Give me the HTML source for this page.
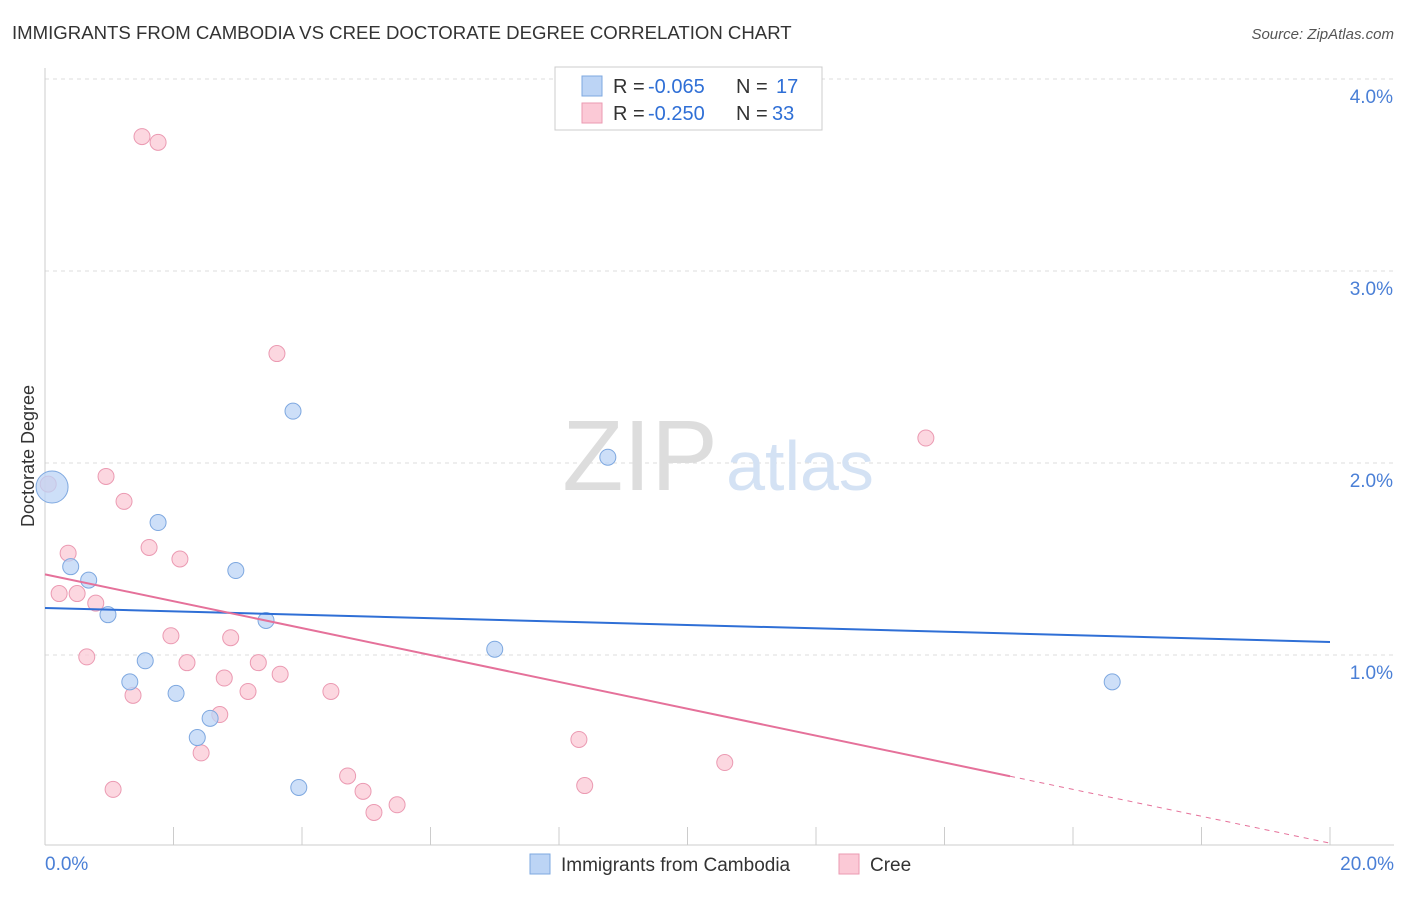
<!DOCTYPE html>
<html><head><meta charset="utf-8"><style>
body{margin:0;background:#fff;font-family:"Liberation Sans",sans-serif;}
svg text{font-family:"Liberation Sans",sans-serif;}
</style></head><body>
<svg id="chart" width="1406" height="892">
<text x="12" y="39" font-size="18.6" fill="#333">IMMIGRANTS FROM CAMBODIA VS CREE DOCTORATE DEGREE CORRELATION CHART</text>
<text x="1394" y="39" font-size="15" fill="#555" text-anchor="end" font-style="italic">Source: ZipAtlas.com</text>
<g id="grid"></g>
<g id="axes"></g>
<text x="640" y="490" font-size="100" fill="#ddd" font-family="Liberation Serif" text-anchor="middle">ZIP</text>
<text x="800" y="490" font-size="70" fill="#d4e2f4" text-anchor="middle">atlas</text>
<g id="marks"></g>
<text transform="translate(34,456) rotate(-90)" font-size="18" fill="#333" text-anchor="middle">Doctorate Degree</text>
<g>
<rect x="555" y="67" width="267" height="63" fill="#fff" stroke="#ccc"/>
<rect x="582" y="76" width="20" height="20" fill="#bcd4f5" stroke="#7ea8e0"/>
<rect x="582" y="103" width="20" height="20" fill="#fbc9d6" stroke="#eb9ab2"/>
<text x="613" y="93" font-size="20" fill="#333">R =</text>
<text x="648" y="93" font-size="20" fill="#2f6fd6">-0.065</text>
<text x="736" y="93" font-size="20" fill="#333">N =</text>
<text x="776" y="93" font-size="20" fill="#2f6fd6">17</text>
<text x="613" y="120" font-size="20" fill="#333">R =</text>
<text x="648" y="120" font-size="20" fill="#2f6fd6">-0.250</text>
<text x="736" y="120" font-size="20" fill="#333">N =</text>
<text x="772" y="120" font-size="20" fill="#2f6fd6">33</text>
</g>
<g>
<rect x="530" y="854" width="20" height="20" fill="#bcd4f5" stroke="#7ea8e0"/>
<text x="561" y="871" font-size="19" fill="#333">Immigrants from Cambodia</text>
<rect x="839" y="854" width="20" height="20" fill="#fbc9d6" stroke="#eb9ab2"/>
<text x="870" y="871" font-size="19" fill="#333">Cree</text>
</g>
</svg>
<script>
const xTicks=[0,20];
const yTicks=[1,2,3,4];
const blueX=[0.11,0.40,0.68,0.98,1.76,1.56,1.32,2.04,2.97,3.44,3.86,2.57,2.37,3.95,7.00,8.76,16.61];
const blueY=[1.875,1.46,1.39,1.21,1.69,0.97,0.86,0.80,1.44,1.18,2.27,0.67,0.57,0.31,1.03,2.03,0.86];
const pinkX=[0.05,1.51,1.76,3.61,13.71,0.95,1.23,0.36,1.62,2.10,0.22,0.50,0.79,1.96,2.89,0.65,2.21,3.32,2.79,3.66,1.37,3.16,4.45,2.72,2.43,8.31,10.58,1.06,4.71,4.95,5.48,5.12,8.40];
const pinkY=[1.89,3.70,3.67,2.57,2.13,1.93,1.80,1.53,1.56,1.50,1.32,1.32,1.27,1.10,1.09,0.99,0.96,0.96,0.88,0.90,0.79,0.81,0.81,0.69,0.49,0.56,0.44,0.30,0.37,0.29,0.22,0.18,0.32];
const blueTrend=[1.245,1.068];
const pinkTrend=[1.42,0.02];
const pinkSolidEnd=15.02;
const X=v=>45+v*64.25, Y=v=>847-v*192;
const NS='http://www.w3.org/2000/svg';
function mk(parent,tag,attrs){const e=document.createElementNS(NS,tag);for(const k in attrs)e.setAttribute(k,attrs[k]);document.getElementById(parent).appendChild(e);return e;}
yTicks.forEach(t=>{
 const l=mk('grid','line',{x1:45,x2:1394,y1:Y(t),y2:Y(t),stroke:'#ddd','stroke-dasharray':'4,4'});
 
 
 const tx=mk('grid','text',{x:1393,y:Y(t)+24,'font-size':19,fill:'#4a7fd6','text-anchor':'end'});
 tx.textContent=t.toFixed(1)+'%';
 
 
});
const ax=mk('axes','line',{x1:45,x2:45,y1:68,y2:845,stroke:'#ccc'});


const bx=mk('axes','line',{x1:45,x2:1394,y1:845,y2:845,stroke:'#ccc'});


for(let i=0;i<=10;i++){
 const t=mk('axes','line',{x1:X(i*2),x2:X(i*2),y1:827,y2:845,stroke:'#ccc'});
 
 
}
xTicks.forEach((t,i)=>{
 const tx=mk('axes','text',{x:i?1394:45,y:870,'font-size':19,fill:'#4a7fd6','text-anchor':i?'end':'start'});
 tx.textContent=t.toFixed(1)+'%';
 
 
});
pinkX.forEach((x,i)=>{
 const c=mk('marks','circle',{cx:X(x),cy:Y(pinkY[i]),r:8,fill:'#fbc9d6','fill-opacity':0.75,stroke:'#eb9ab2'});
 
 
});
blueX.forEach((x,i)=>{
 const c=mk('marks','circle',{cx:X(x),cy:Y(blueY[i]),r:i==0?16:8,fill:'#bcd4f5','fill-opacity':0.75,stroke:'#7ea8e0'});
 
 
});
const bl=mk('marks','line',{x1:X(0),y1:Y(blueTrend[0]),x2:X(20),y2:Y(blueTrend[1]),stroke:'#2f6fd6','stroke-width':2});


const pm=pinkTrend[0]+(pinkTrend[1]-pinkTrend[0])*pinkSolidEnd/20;
const pl=mk('marks','line',{x1:X(0),y1:Y(pinkTrend[0]),x2:X(pinkSolidEnd),y2:Y(pm),stroke:'#e5719a','stroke-width':2});


const pd=mk('marks','line',{x1:X(pinkSolidEnd),y1:Y(pm),x2:X(20),y2:Y(pinkTrend[1]),stroke:'#e5719a','stroke-width':1,'stroke-dasharray':'5,5'});


</script>
</body></html>
